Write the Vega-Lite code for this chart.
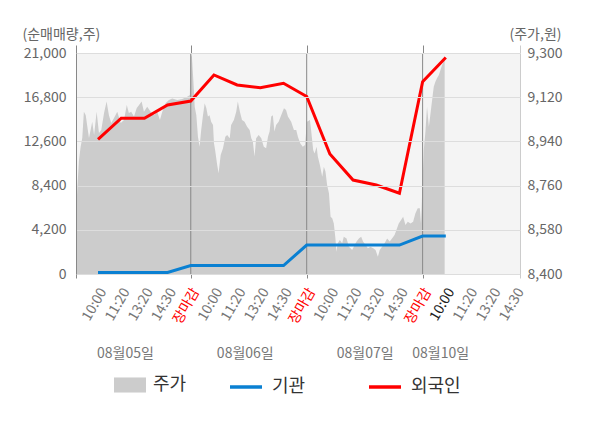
{
  "$schema": "https://vega.github.io/schema/vega-lite/v6.json",
  "width": 444,
  "height": 221,
  "autosize": {"type": "none"},
  "padding": {"left": 76, "top": 53, "right": 80, "bottom": 154},
  "datasets": {
    "price": [
      {"s": 0.05, "p": 8633}, {"s": 0.11, "p": 8755}, {"s": 0.18, "p": 8864}, {"s": 0.25, "p": 8918},
      {"s": 0.32, "p": 8954}, {"s": 0.39, "p": 9061}, {"s": 0.47, "p": 9047}, {"s": 0.54, "p": 9000},
      {"s": 0.61, "p": 8954}, {"s": 0.68, "p": 8986}, {"s": 0.75, "p": 9020}, {"s": 0.83, "p": 8966},
      {"s": 0.94, "p": 9061}, {"s": 1.04, "p": 8974}, {"s": 1.14, "p": 8986}, {"s": 1.26, "p": 9056},
      {"s": 1.37, "p": 9102}, {"s": 1.47, "p": 9047}, {"s": 1.57, "p": 9015}, {"s": 1.69, "p": 9035},
      {"s": 1.83, "p": 9061}, {"s": 1.98, "p": 9015}, {"s": 2.12, "p": 9027}, {"s": 2.24, "p": 9088},
      {"s": 2.33, "p": 9056}, {"s": 2.43, "p": 9061}, {"s": 2.55, "p": 9041}, {"s": 2.67, "p": 9076},
      {"s": 2.77, "p": 9088}, {"s": 2.88, "p": 9102}, {"s": 2.98, "p": 9061}, {"s": 3.12, "p": 9081},
      {"s": 3.27, "p": 9061}, {"s": 3.41, "p": 9047}, {"s": 3.55, "p": 9061}, {"s": 3.67, "p": 9027},
      {"s": 3.77, "p": 9061}, {"s": 3.92, "p": 9096}, {"s": 4.06, "p": 9109}, {"s": 4.2, "p": 9115},
      {"s": 4.42, "p": 9109}, {"s": 4.63, "p": 9113}, {"s": 4.85, "p": 9122}, {"s": 4.96, "p": 9129},
      {"s": 4.99, "p": 9299}, {"s": 5.05, "p": 9285}, {"s": 5.11, "p": 9190}, {"s": 5.17, "p": 9081},
      {"s": 5.24, "p": 9047}, {"s": 5.31, "p": 8959}, {"s": 5.38, "p": 8918}, {"s": 5.45, "p": 8986},
      {"s": 5.52, "p": 9041}, {"s": 5.6, "p": 9095}, {"s": 5.67, "p": 9076}, {"s": 5.74, "p": 9041},
      {"s": 5.81, "p": 9047}, {"s": 5.88, "p": 9020}, {"s": 5.96, "p": 9007}, {"s": 6.0, "p": 8933},
      {"s": 6.05, "p": 8905}, {"s": 6.14, "p": 8844}, {"s": 6.2, "p": 8810}, {"s": 6.29, "p": 8885},
      {"s": 6.39, "p": 8912}, {"s": 6.49, "p": 8959}, {"s": 6.57, "p": 8966}, {"s": 6.68, "p": 8953},
      {"s": 6.74, "p": 9007}, {"s": 6.86, "p": 9027}, {"s": 6.96, "p": 9061}, {"s": 7.03, "p": 9102},
      {"s": 7.12, "p": 9061}, {"s": 7.21, "p": 9027}, {"s": 7.32, "p": 9020}, {"s": 7.43, "p": 9000},
      {"s": 7.54, "p": 8986}, {"s": 7.61, "p": 8953}, {"s": 7.68, "p": 8939}, {"s": 7.75, "p": 8878},
      {"s": 7.82, "p": 8953}, {"s": 7.93, "p": 8966}, {"s": 8.04, "p": 8953}, {"s": 8.15, "p": 8918},
      {"s": 8.25, "p": 8912}, {"s": 8.33, "p": 8959}, {"s": 8.4, "p": 8980}, {"s": 8.47, "p": 9041},
      {"s": 8.54, "p": 9047}, {"s": 8.61, "p": 8980}, {"s": 8.68, "p": 9007}, {"s": 8.79, "p": 9020},
      {"s": 8.9, "p": 9047}, {"s": 9.02, "p": 9075}, {"s": 9.11, "p": 9068}, {"s": 9.19, "p": 9041},
      {"s": 9.33, "p": 9020}, {"s": 9.45, "p": 8986}, {"s": 9.55, "p": 8986}, {"s": 9.62, "p": 8959},
      {"s": 9.72, "p": 8932}, {"s": 9.83, "p": 8918}, {"s": 9.93, "p": 8925},
      {"s": 10.01, "p": 9020}, {"s": 10.14, "p": 9027}, {"s": 10.19, "p": 8986}, {"s": 10.28, "p": 8905},
      {"s": 10.34, "p": 8891}, {"s": 10.43, "p": 8918}, {"s": 10.48, "p": 8878}, {"s": 10.57, "p": 8844},
      {"s": 10.67, "p": 8796}, {"s": 10.74, "p": 8837}, {"s": 10.81, "p": 8817}, {"s": 10.88, "p": 8762},
      {"s": 10.96, "p": 8729}, {"s": 11.03, "p": 8633}, {"s": 11.1, "p": 8627}, {"s": 11.17, "p": 8606},
      {"s": 11.24, "p": 8545}, {"s": 11.28, "p": 8491}, {"s": 11.34, "p": 8525}, {"s": 11.43, "p": 8538},
      {"s": 11.53, "p": 8525}, {"s": 11.6, "p": 8552}, {"s": 11.72, "p": 8545}, {"s": 11.82, "p": 8511},
      {"s": 11.89, "p": 8505}, {"s": 11.96, "p": 8498}, {"s": 12.03, "p": 8511}, {"s": 12.15, "p": 8532},
      {"s": 12.25, "p": 8545}, {"s": 12.35, "p": 8552}, {"s": 12.43, "p": 8532}, {"s": 12.54, "p": 8518},
      {"s": 12.64, "p": 8505}, {"s": 12.75, "p": 8511}, {"s": 12.87, "p": 8505}, {"s": 12.97, "p": 8498},
      {"s": 13.07, "p": 8470}, {"s": 13.15, "p": 8498}, {"s": 13.25, "p": 8511}, {"s": 13.36, "p": 8525},
      {"s": 13.47, "p": 8545}, {"s": 13.58, "p": 8532}, {"s": 13.68, "p": 8545}, {"s": 13.79, "p": 8559},
      {"s": 13.87, "p": 8579}, {"s": 13.97, "p": 8606}, {"s": 14.07, "p": 8620}, {"s": 14.16, "p": 8633},
      {"s": 14.26, "p": 8600}, {"s": 14.36, "p": 8613}, {"s": 14.48, "p": 8606}, {"s": 14.59, "p": 8613},
      {"s": 14.69, "p": 8647}, {"s": 14.79, "p": 8668}, {"s": 14.88, "p": 8668}, {"s": 14.93, "p": 8606},
      {"s": 15.05, "p": 8905}, {"s": 15.12, "p": 8979}, {"s": 15.19, "p": 9081}, {"s": 15.27, "p": 9000},
      {"s": 15.34, "p": 9054}, {"s": 15.41, "p": 9109}, {"s": 15.48, "p": 9163}, {"s": 15.55, "p": 9183},
      {"s": 15.62, "p": 9197}, {"s": 15.7, "p": 9210}, {"s": 15.77, "p": 9231}, {"s": 15.84, "p": 9251},
      {"s": 15.91, "p": 9265}, {"s": 15.95, "p": 9271}
    ],
    "flows": [
      {"s": 1, "v": 12800, "series": "외국인"}, {"s": 2, "v": 14800, "series": "외국인"},
      {"s": 3, "v": 14800, "series": "외국인"}, {"s": 4, "v": 16060, "series": "외국인"},
      {"s": 5, "v": 16440, "series": "외국인"}, {"s": 6, "v": 18910, "series": "외국인"},
      {"s": 7, "v": 17960, "series": "외국인"}, {"s": 8, "v": 17700, "series": "외국인"},
      {"s": 9, "v": 18120, "series": "외국인"}, {"s": 10, "v": 16870, "series": "외국인"},
      {"s": 11, "v": 11400, "series": "외국인"}, {"s": 12, "v": 8930, "series": "외국인"},
      {"s": 13, "v": 8460, "series": "외국인"}, {"s": 14, "v": 7670, "series": "외국인"},
      {"s": 15, "v": 18270, "series": "외국인"}, {"s": 16, "v": 20570, "series": "외국인"},
      {"s": 1, "v": 140, "series": "기관"}, {"s": 2, "v": 140, "series": "기관"},
      {"s": 3, "v": 140, "series": "기관"}, {"s": 4, "v": 140, "series": "기관"},
      {"s": 5, "v": 800, "series": "기관"}, {"s": 6, "v": 800, "series": "기관"},
      {"s": 7, "v": 800, "series": "기관"}, {"s": 8, "v": 800, "series": "기관"},
      {"s": 9, "v": 800, "series": "기관"}, {"s": 10, "v": 2750, "series": "기관"},
      {"s": 11, "v": 2750, "series": "기관"}, {"s": 12, "v": 2750, "series": "기관"},
      {"s": 13, "v": 2750, "series": "기관"}, {"s": 14, "v": 2750, "series": "기관"},
      {"s": 15, "v": 3610, "series": "기관"}, {"s": 16, "v": 3610, "series": "기관"}
    ],
    "days": [{"s": 5}, {"s": 10}, {"s": 15}]
  },
  "layer": [
    {
      "data": {"name": "price"},
      "mark": {"type": "area", "clip": true, "opacity": 1},
      "encoding": {
        "x": {
          "field": "s",
          "type": "quantitative",
          "scale": {"domain": [0.05, 19.2], "nice": false, "zero": false},
          "axis": {
            "orient": "bottom",
            "title": null,
            "grid": false,
            "values": [0.05, 1, 2, 3, 4, 5, 6, 7, 8, 9, 10, 11, 12, 13, 14, 15, 16, 17, 18, 19, 19.2],
            "labelExpr": "datum.value < 0.5 || datum.value > 19.1 ? '' : ['10:00','11:20','13:20','14:30','장마감'][(round(datum.value) - 1) % 5]",
            "labelAngle": -60,
            "labelAlign": "right",
            "labelBaseline": "middle",
            "labelOffset": 5,
            "labelPadding": 11,
            "labelOverlap": false,
            "labelBound": false,
            "labelFlush": false,
            "labelFontSize": 14,
            "labelColor": {
              "condition": [
                {"test": "datum.value == 5 || datum.value == 10 || datum.value == 15", "value": "#ff0000"},
                {"test": "datum.value == 16", "value": "#222222"}
              ],
              "value": "#777777"
            },
            "ticks": true,
            "tickSize": 4,
            "tickColor": {
              "condition": [
                {"test": "datum.value > 19.1", "value": "#cccccc"},
                {"test": "datum.value < 0.5 || datum.value == 5 || datum.value == 10 || datum.value == 15", "value": "#888888"}
              ],
              "value": "transparent"
            },
            "domainColor": "#888888"
          }
        },
        "y": {
          "field": "p",
          "type": "quantitative",
          "scale": {"domain": [8400, 9300], "nice": false, "zero": false},
          "axis": {
            "orient": "right",
            "values": [8400, 8580, 8760, 8940, 9120, 9300],
            "format": ",d",
            "ticks": false,
            "grid": false,
            "labelPadding": 7,
            "labelFontSize": 14,
            "labelColor": "#666666",
            "domainColor": "#cccccc",
            "title": "(주가,원)",
            "titleAngle": 0,
            "titleAlign": "left",
            "titleBaseline": "alphabetic",
            "titleX": -11,
            "titleY": -15,
            "titleFontSize": 14,
            "titleFontWeight": "normal",
            "titleColor": "#666666"
          }
        },
        "fill": {
          "datum": "주가",
          "type": "nominal",
          "scale": {"domain": ["주가"], "range": ["#cccccc"]},
          "legend": {
            "title": null,
            "orient": "none",
            "legendX": 30,
            "legendY": 316,
            "symbolType": "M-1,-0.47H1V0.47H-1Z",
            "symbolSize": 1024,
            "symbolOffset": 8,
            "symbolStrokeWidth": 0,
            "symbolOpacity": 1,
            "labelFontSize": 18,
            "labelColor": "#333333",
            "labelOffset": 7
          }
        }
      }
    },
    {
      "data": {"name": "days"},
      "mark": {"type": "rule", "color": "#888888", "strokeWidth": 1},
      "encoding": {
        "x": {
          "field": "s",
          "type": "quantitative",
          "axis": {
            "orient": "top",
            "title": null,
            "values": [0.05, 5, 10, 15, 19.2],
            "labels": false,
            "domain": false,
            "grid": false,
            "ticks": true,
            "tickSize": 8,
            "tickColor": {"condition": {"test": "datum.value > 19.1", "value": "#cccccc"}, "value": "#888888"}
          }
        }
      }
    },
    {
      "data": {"name": "flows"},
      "mark": {"type": "line", "strokeWidth": 3},
      "encoding": {
        "x": {
          "field": "s",
          "type": "quantitative",
          "axis": {
            "orient": "bottom",
            "offset": 70,
            "title": null,
            "values": [2.16, 7.33, 12.5, 15.76],
            "labelExpr": "datum.value < 5 ? '08월05일' : datum.value < 10 ? '08월06일' : datum.value < 15 ? '08월07일' : '08월10일'",
            "labelAngle": 0,
            "labelAlign": "center",
            "labelBaseline": "top",
            "labelPadding": 2,
            "labelOverlap": false,
            "labelFontSize": 14,
            "labelColor": "#777777",
            "ticks": false,
            "domain": false,
            "grid": false
          }
        },
        "y": {
          "field": "v",
          "type": "quantitative",
          "scale": {"domain": [0, 21000], "nice": false},
          "axis": {
            "orient": "left",
            "values": [0, 4200, 8400, 12600, 16800, 21000],
            "format": ",d",
            "ticks": false,
            "labelPadding": 10,
            "labelFontSize": 14,
            "labelColor": "#666666",
            "domainColor": "#888888",
            "grid": true,
            "gridColor": "#dddddd",
            "zindex": 1,
            "title": "(순매매량,주)",
            "titleAngle": 0,
            "titleAlign": "left",
            "titleBaseline": "alphabetic",
            "titleX": -54,
            "titleY": -15,
            "titleFontSize": 14,
            "titleFontWeight": "normal",
            "titleColor": "#666666"
          }
        },
        "stroke": {
          "field": "series",
          "type": "nominal",
          "scale": {"domain": ["기관", "외국인"], "range": ["#0a80d2", "#ff0000"]},
          "legend": {
            "title": null,
            "orient": "none",
            "legendX": 144,
            "legendY": 316,
            "direction": "horizontal",
            "symbolType": "stroke",
            "symbolSize": 1024,
            "symbolOffset": 8,
            "symbolStrokeWidth": 3.5,
            "symbolOpacity": 1,
            "labelFontSize": 18,
            "labelColor": "#333333",
            "labelOffset": 8,
            "columnPadding": 53
          }
        }
      }
    }
  ],
  "resolve": {
    "scale": {"y": "independent"},
    "axis": {"x": "independent", "y": "independent"}
  },
  "config": {
    "font": "Noto Sans CJK KR",
    "view": {"fill": "#f4f4f4", "stroke": null}
  }
}
